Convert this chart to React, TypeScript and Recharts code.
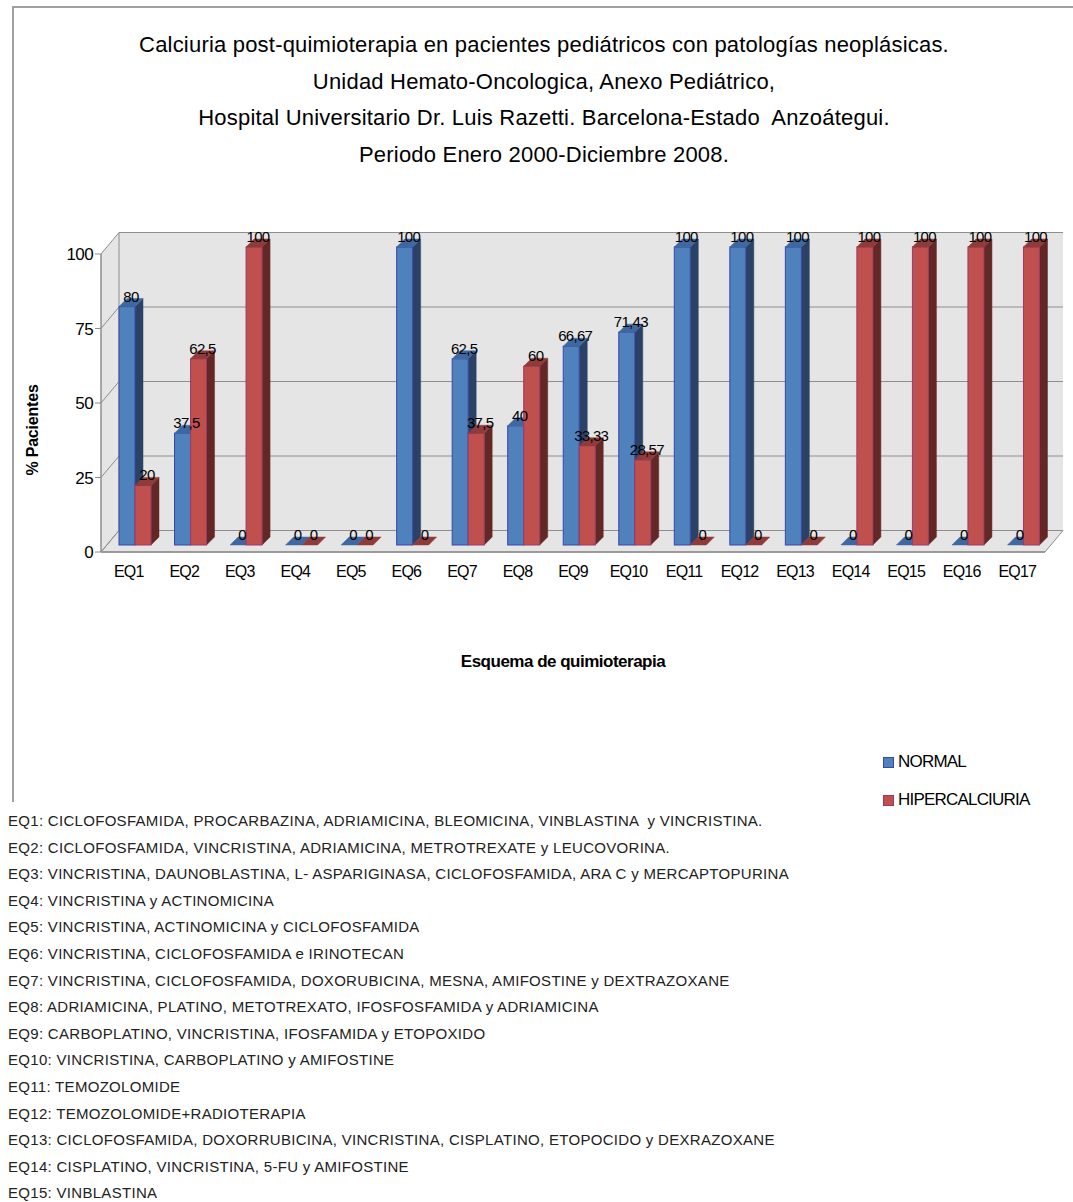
import React from 'react';
import { BarChart, Bar, XAxis, YAxis, ReferenceArea, LabelList } from 'recharts';

const categories = ['EQ1', 'EQ2', 'EQ3', 'EQ4', 'EQ5', 'EQ6', 'EQ7', 'EQ8', 'EQ9', 'EQ10', 'EQ11', 'EQ12', 'EQ13', 'EQ14', 'EQ15', 'EQ16', 'EQ17'];
const normalValues = [80, 37.5, 0, 0, 0, 100, 62.5, 40, 66.67, 71.43, 100, 100, 100, 0, 0, 0, 0];
const hiperValues = [20, 62.5, 100, 0, 0, 0, 37.5, 60, 33.33, 28.57, 0, 0, 0, 100, 100, 100, 100];
const yTicks = [0, 25, 50, 75, 100];
const seriesNames = ['NORMAL', 'HIPERCALCIURIA'];
const titleLines = [
  'Calciuria post-quimioterapia en pacientes pediátricos con patologías neoplásicas.',
  'Unidad Hemato-Oncologica, Anexo Pediátrico,',
  'Hospital Universitario Dr. Luis Razetti. Barcelona-Estado  Anzoátegui.',
  'Periodo Enero 2000-Diciembre 2008.',
];
const yAxisTitle = '% Pacientes';
const xAxisTitle = 'Esquema de quimioterapia';
const footnotes = [
  'EQ1: CICLOFOSFAMIDA, PROCARBAZINA, ADRIAMICINA, BLEOMICINA, VINBLASTINA  y VINCRISTINA.',
  'EQ2: CICLOFOSFAMIDA, VINCRISTINA, ADRIAMICINA, METROTREXATE y LEUCOVORINA.',
  'EQ3: VINCRISTINA, DAUNOBLASTINA, L- ASPARIGINASA, CICLOFOSFAMIDA, ARA C y MERCAPTOPURINA',
  'EQ4: VINCRISTINA y ACTINOMICINA',
  'EQ5: VINCRISTINA, ACTINOMICINA y CICLOFOSFAMIDA',
  'EQ6: VINCRISTINA, CICLOFOSFAMIDA e IRINOTECAN',
  'EQ7: VINCRISTINA, CICLOFOSFAMIDA, DOXORUBICINA, MESNA, AMIFOSTINE y DEXTRAZOXANE',
  'EQ8: ADRIAMICINA, PLATINO, METOTREXATO, IFOSFOSFAMIDA y ADRIAMICINA',
  'EQ9: CARBOPLATINO, VINCRISTINA, IFOSFAMIDA y ETOPOXIDO',
  'EQ10: VINCRISTINA, CARBOPLATINO y AMIFOSTINE',
  'EQ11: TEMOZOLOMIDE',
  'EQ12: TEMOZOLOMIDE+RADIOTERAPIA',
  'EQ13: CICLOFOSFAMIDA, DOXORRUBICINA, VINCRISTINA, CISPLATINO, ETOPOCIDO y DEXRAZOXANE',
  'EQ14: CISPLATINO, VINCRISTINA, 5-FU y AMIFOSTINE',
  'EQ15: VINBLASTINA',
];

const data = categories.map((name, i) => ({ name, normal: normalValues[i], hiper: hiperValues[i] }));

const FONT = "'Liberation Sans', Arial, sans-serif";
const DEPTH = 8;
const SHIFT_X = 6;
const SHIFT_Y = -7;
const WALL_DX = 18;
const WALL_DY = -21.5;
const WALL_FILL = '#e5e5e5';
const GRID = '#8e8e8e';

const COLORS = {
  normal: { front: '#4f81bd', side: '#2b4266', top: '#3f68a0', edge: '#3a46a8' },
  hiper: { front: '#c0504d', side: '#632826', top: '#8e3b39', edge: '#9a3a6a' },
};

function makeBar3D(c: { front: string; side: string; top: string; edge: string }) {
  return (props: any) => {
    const { x, y, width, height } = props;
    if (x == null || y == null) return <g />;
    const h = Math.max(0, height || 0);
    const fx = x + SHIFT_X;
    const fy = y + SHIFT_Y;
    const w = width;
    const d = DEPTH;
    const side = `${fx + w},${fy} ${fx + w + d},${fy - d} ${fx + w + d},${fy + h - d} ${fx + w},${fy + h}`;
    const top = `${fx},${fy} ${fx + d},${fy - d} ${fx + w + d},${fy - d} ${fx + w},${fy}`;
    return (
      <g>
        {h > 0 && <polygon points={side} fill={c.side} stroke={c.side} strokeWidth={0.5} />}
        {h > 0 && <rect x={fx} y={fy} width={w} height={h} fill={c.front} stroke={c.edge} strokeWidth={1} />}
        <polygon points={top} fill={c.top} stroke={c.top} strokeWidth={0.5} />
      </g>
    );
  };
}

const fmt = (v: number) => String(v).replace('.', ',');

const ValueLabel = (props: any) => {
  const { x, y, width, value } = props;
  if (x == null || y == null) return null;
  const cx = x + SHIFT_X + (width + DEPTH) / 2;
  const by = y + SHIFT_Y - DEPTH + 3;
  return (
    <text x={cx} y={by} textAnchor="middle" fontSize={15} fontFamily={FONT} letterSpacing={-0.7} fill="#000">
      {fmt(value)}
    </text>
  );
};

const Walls = (props: any) => {
  const { x, y, width, height } = props;
  if (x == null) return <g />;
  const x0 = x;
  const x1 = x + width;
  const yTop = y;
  const yBot = y + height;
  const bx0 = x0 + WALL_DX;
  const bx1 = x1 + WALL_DX;
  const lines = yTicks.map((t) => {
    const yf = yBot - (height * t) / 100;
    return { yf, yb: yf + WALL_DY };
  });
  return (
    <g>
      <rect x={bx0} y={yTop + WALL_DY} width={bx1 - bx0} height={height} fill={WALL_FILL} />
      <polygon points={`${x0},${yTop} ${bx0},${yTop + WALL_DY} ${bx0},${yBot + WALL_DY} ${x0},${yBot}`} fill={WALL_FILL} />
      <polygon points={`${x0},${yBot} ${x1},${yBot} ${bx1},${yBot + WALL_DY} ${bx0},${yBot + WALL_DY}`} fill={WALL_FILL} stroke={GRID} strokeWidth={1} />
      {lines.map((l, i) => (
        <g key={i}>
          <line x1={bx0} y1={l.yb} x2={bx1} y2={l.yb} stroke={GRID} strokeWidth={1} />
          <line x1={x0} y1={l.yf} x2={bx0} y2={l.yb} stroke={GRID} strokeWidth={1} />
        </g>
      ))}
      <line x1={bx0} y1={yTop + WALL_DY} x2={bx0} y2={yBot + WALL_DY} stroke={GRID} strokeWidth={1} />
      <line x1={x0} y1={yBot} x2={x1} y2={yBot} stroke={GRID} strokeWidth={1.5} />
    </g>
  );
};

const W = 1073;
const CH = 800;
const PLOT_LEFT = 101;
const PLOT_RIGHT = 1045;
const PLOT_TOP = 254;
const PLOT_BOTTOM = 552;
const Y_W = 40;
const X_H = 30;

export default function App() {
  return (
    <div style={{ position: 'absolute', left: 0, top: 0, width: W, height: 1202, background: '#fff', fontFamily: FONT, overflow: 'hidden' }}>
      <div style={{ position: 'absolute', left: 12, top: 6, width: W - 12, height: 794, borderTop: '2px solid #a0a0a0', borderLeft: '2px solid #a0a0a0' }} />
      {titleLines.map((t, i) => (
        <div key={i} style={{ position: 'absolute', left: 0, width: 1088, top: 45 + i * 36.7 - 13, height: 26, lineHeight: '26px', textAlign: 'center', fontSize: 22, letterSpacing: 0.2, color: '#000', whiteSpace: 'pre' }}>
          {t}
        </div>
      ))}
      <div style={{ position: 'absolute', left: 0, top: 0 }}>
        <BarChart
          width={W}
          height={CH}
          data={data}
          margin={{ top: PLOT_TOP, right: W - PLOT_RIGHT, left: PLOT_LEFT - Y_W, bottom: CH - PLOT_BOTTOM - X_H }}
          barSize={16}
          barGap={0}
        >
          <ReferenceArea y1={0} y2={100} ifOverflow="visible" shape={(p: any) => <Walls {...p} />} />
          <XAxis
            dataKey="name"
            height={X_H}
            axisLine={false}
            tickLine={false}
            tickMargin={8}
            interval={0}
            tick={{ fontSize: 16, fontFamily: FONT, fill: '#000', letterSpacing: -0.8 }}
          />
          <YAxis
            width={Y_W}
            domain={[0, 100]}
            ticks={yTicks}
            axisLine={{ stroke: GRID, strokeWidth: 1.5 }}
            tickLine={{ stroke: GRID }}
            tickSize={6}
            tickMargin={2}
            tick={{ fontSize: 17, fontFamily: FONT, fill: '#000', letterSpacing: -0.6 }}
          />
          <Bar dataKey="normal" name={seriesNames[0]} fill={COLORS.normal.front} isAnimationActive={false} shape={makeBar3D(COLORS.normal)}>
            <LabelList dataKey="normal" content={ValueLabel} />
          </Bar>
          <Bar dataKey="hiper" name={seriesNames[1]} fill={COLORS.hiper.front} isAnimationActive={false} shape={makeBar3D(COLORS.hiper)}>
            <LabelList dataKey="hiper" content={ValueLabel} />
          </Bar>
        </BarChart>
      </div>
      <div style={{ position: 'absolute', left: 33 - 60, top: 430 - 10, width: 120, height: 20, lineHeight: '20px', textAlign: 'center', transform: 'rotate(-90deg)', fontSize: 16, fontWeight: 'bold', letterSpacing: -0.2 }}>
        {yAxisTitle}
      </div>
      <div style={{ position: 'absolute', left: 363, width: 400, top: 651, height: 22, lineHeight: '22px', textAlign: 'center', fontSize: 17, fontWeight: 'bold', letterSpacing: -0.5 }}>
        {xAxisTitle}
      </div>
      {seriesNames.map((s, i) => (
        <div key={s} style={{ position: 'absolute', left: 883, top: 752 + i * 38, height: 20, display: 'flex', alignItems: 'center' }}>
          <div style={{ width: 9, height: 9, background: i === 0 ? COLORS.normal.front : COLORS.hiper.front, border: `1px solid ${i === 0 ? COLORS.normal.edge : COLORS.hiper.edge}` }} />
          <span style={{ marginLeft: 4, fontSize: 17, letterSpacing: -0.8, lineHeight: '20px' }}>{s}</span>
        </div>
      ))}
      {footnotes.map((f, i) => (
        <div key={i} style={{ position: 'absolute', left: 8, top: 821 + i * 26.6 - 10, height: 20, lineHeight: '20px', fontSize: 15, letterSpacing: 0.3, whiteSpace: 'pre', fontFamily: FONT, color: '#222' }}>
          {f}
        </div>
      ))}
    </div>
  );
}
